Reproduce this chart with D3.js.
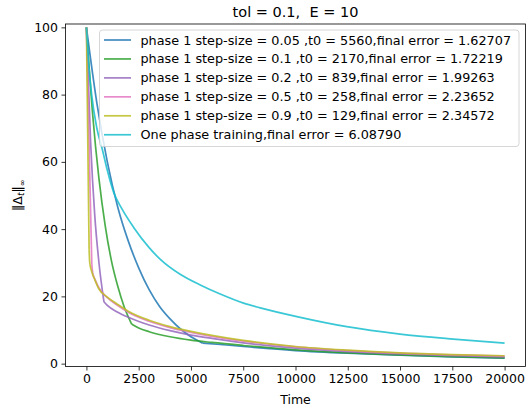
<!DOCTYPE html>
<meta charset="utf-8">
<style>
body { margin: 0; background: #fff; }
svg text { font-family: "DejaVu Sans", sans-serif; fill: #000; }
.axis text { font-size: 12.5px; }
.axis path, .axis line { stroke: #000; stroke-width: 0.8px; }
.legend text { font-size: 12.8px; }
</style>
<body>
<script src="https://d3js.org/d3.v7.min.js"></script>
<script>

var width = 531, height = 411;
var margin = {left: 65.5, right: 5.5, top: 24, bottom: 44.5};

var labels = [
  "phase 1 step-size = 0.05 ,t0 = 5560,final error = 1.62707",
  "phase 1 step-size = 0.1 ,t0 = 2170,final error = 1.72219",
  "phase 1 step-size = 0.2 ,t0 = 839,final error = 1.99263",
  "phase 1 step-size = 0.5 ,t0 = 258,final error = 2.23652",
  "phase 1 step-size = 0.9 ,t0 = 129,final error = 2.34572",
  "One phase training,final error = 6.08790"
];
var colors = ["#1f77b4", "#2ca02c", "#9467bd", "#e377c2", "#bcbd22", "#17becf"];
var t0s = [5560, 2170, 839, 258, 129, null];

var tBlue = [0, 500, 1000, 1500, 2000, 2500, 3000, 3500, 4000, 4500, 5000, 5560, 6400, 7500, 10000, 12500, 15000, 17500, 20000];
var vBlue = [100, 77.5, 60, 46.5, 36.5, 28.5, 22, 17, 13.3, 10.3, 8, 6.1, 5.7, 5.1, 3.9, 3.1, 2.5, 2.0, 1.63];

var tGreen = [0, 300, 600, 900, 1200, 1500, 1800, 2170, 2500, 3000, 4000, 5000, 6000, 7500, 10000, 12500, 15000, 17500, 20000];
var vGreen = [100, 74, 55, 41, 30.5, 23, 17, 11.7, 10.6, 9.5, 8.0, 7.0, 6.3, 5.4, 4.1, 3.2, 2.6, 2.1, 1.72];

var tPurple = [0, 200, 400, 600, 839, 1000, 1500, 2000, 3000, 4000, 5000, 6000, 7500, 10000, 12500, 15000, 17500, 20000];
var vPurple = [100, 66, 44, 30, 18.4, 17.3, 15.3, 13.8, 11.5, 9.8, 8.5, 7.5, 6.2, 4.6, 3.6, 2.9, 2.35, 1.99];

var tPink = [0, 258, 300, 400, 600, 1000, 1500, 2000, 3000, 4000, 5000, 6000, 7500, 10000, 12500, 15000, 17500, 20000];
var vPink = [100, 29.5, 27, 25.2, 22.5, 19.6, 17.3, 15.3, 12.6, 10.7, 9.3, 8.1, 6.7, 5.0, 3.9, 3.1, 2.6, 2.24];

var tOlive = [0, 129, 160, 250, 400, 600, 1000, 1500, 2000, 3000, 4000, 5000, 6000, 7500, 10000, 12500, 15000, 17500, 20000];
var vOlive = [100, 34, 30, 27.5, 25, 22.2, 19.8, 17.6, 15.6, 12.9, 11, 9.6, 8.4, 6.9, 5.1, 4.0, 3.2, 2.7, 2.35];

var tCyan = [0, 100, 250, 500, 750, 1000, 1300, 1700, 2260, 3000, 3535, 4500, 5445, 6400, 7515, 8312, 10064, 12453, 15000, 17545, 20000];
var vCyan = [100, 90, 80, 70, 64, 57.5, 51, 46, 40.5, 34.5, 31, 26.5, 23.4, 20.7, 18, 16.6, 14, 11, 8.8, 7.3, 6.09];

var xTicks = [0, 2500, 5000, 7500, 10000, 12500, 15000, 17500, 20000];
var yTicks = [0, 20, 40, 60, 80, 100];

var ts = [tBlue, tGreen, tPurple, tPink, tOlive, tCyan];
var vs = [vBlue, vGreen, vPurple, vPink, vOlive, vCyan];

var svg = d3.select("body").append("svg")
    .attr("width", width)
    .attr("height", height);

var x = d3.scaleLinear().domain([-1000, 21000]).range([margin.left, width - margin.right]);
var y = d3.scaleLinear().domain([-0.85, 101]).range([height - margin.bottom, margin.top]);

var line = d3.line()
    .x(function(d){ return x(d[0]); })
    .y(function(d){ return y(d[1]); })
    .curve(d3.curveMonotoneX);

var plot = svg.append("g");

ts.forEach(function(t, i){
  var pts = t.map(function(tt, j){ return [tt, vs[i][j]]; });
  // split at t0 so the phase switch stays a sharp corner
  var segs = [pts];
  if (t0s[i] !== null) {
    segs = [pts.filter(function(p){ return p[0] <= t0s[i]; }),
            pts.filter(function(p){ return p[0] >= t0s[i]; })];
  }
  segs.forEach(function(s){
    plot.append("path")
      .attr("d", line(s))
      .attr("fill", "none")
      .attr("stroke", colors[i])
      .attr("stroke-opacity", 0.85)
      .attr("stroke-width", 1.7)
      .attr("stroke-linejoin", "round");
  });
});

// frame
svg.append("rect")
  .attr("x", margin.left).attr("y", margin.top)
  .attr("width", width - margin.left - margin.right)
  .attr("height", height - margin.top - margin.bottom)
  .attr("fill", "none").attr("stroke", "#000").attr("stroke-width", 0.8);

svg.append("g")
  .attr("class", "axis")
  .attr("transform", "translate(0," + (height - margin.bottom) + ")")
  .call(d3.axisBottom(x).tickValues(xTicks).tickFormat(d3.format("d")).tickSize(4).tickPadding(3.5))
  .call(function(g){ g.select(".domain").remove(); });

svg.append("g")
  .attr("class", "axis")
  .attr("transform", "translate(" + margin.left + ",0)")
  .call(d3.axisLeft(y).tickValues(yTicks).tickFormat(d3.format("d")).tickSize(4).tickPadding(3.5))
  .call(function(g){ g.select(".domain").remove(); });

svg.append("text")
  .attr("x", (margin.left + width - margin.right) / 2)
  .attr("y", 404)
  .attr("text-anchor", "middle")
  .style("font-size", "12.5px")
  .text("Time");

var yl = svg.append("text")
  .attr("transform", "translate(22," + ((margin.top + height - margin.bottom) / 2) + ") rotate(-90)")
  .attr("text-anchor", "middle")
  .style("font-size", "12.5px");
yl.append("tspan").text("\u2016\u0394");
yl.append("tspan").attr("font-style", "italic").attr("font-size", "9px").attr("dy", 2).text("t");
yl.append("tspan").attr("dy", -2).text("\u2016");
yl.append("tspan").attr("font-size", "8px").attr("dy", 3).text("\u221e");

svg.append("text")
  .attr("x", (margin.left + width - margin.right) / 2)
  .attr("y", 17)
  .attr("text-anchor", "middle")
  .style("font-size", "14.5px")
  .style("white-space", "pre")
  .attr("xml:space", "preserve")
  .text("tol = 0.1,  E = 10");

// legend
var lg = svg.append("g").attr("class", "legend");
lg.append("rect")
  .attr("x", 99.5).attr("y", 30)
  .attr("width", 419.5).attr("height", 116.5)
  .attr("rx", 3)
  .attr("fill", "#fff").attr("fill-opacity", 0.8)
  .attr("stroke", "#ccc").attr("stroke-width", 0.8);

labels.forEach(function(lab, i){
  var yy = 40 + i * 18.95;
  lg.append("line")
    .attr("x1", 104).attr("x2", 131)
    .attr("y1", yy).attr("y2", yy)
    .attr("stroke", colors[i]).attr("stroke-opacity", 0.85).attr("stroke-width", 1.7);
  lg.append("text")
    .attr("x", 140.5).attr("y", yy + 4.5)
    .text(lab);
});

</script>
</body>
